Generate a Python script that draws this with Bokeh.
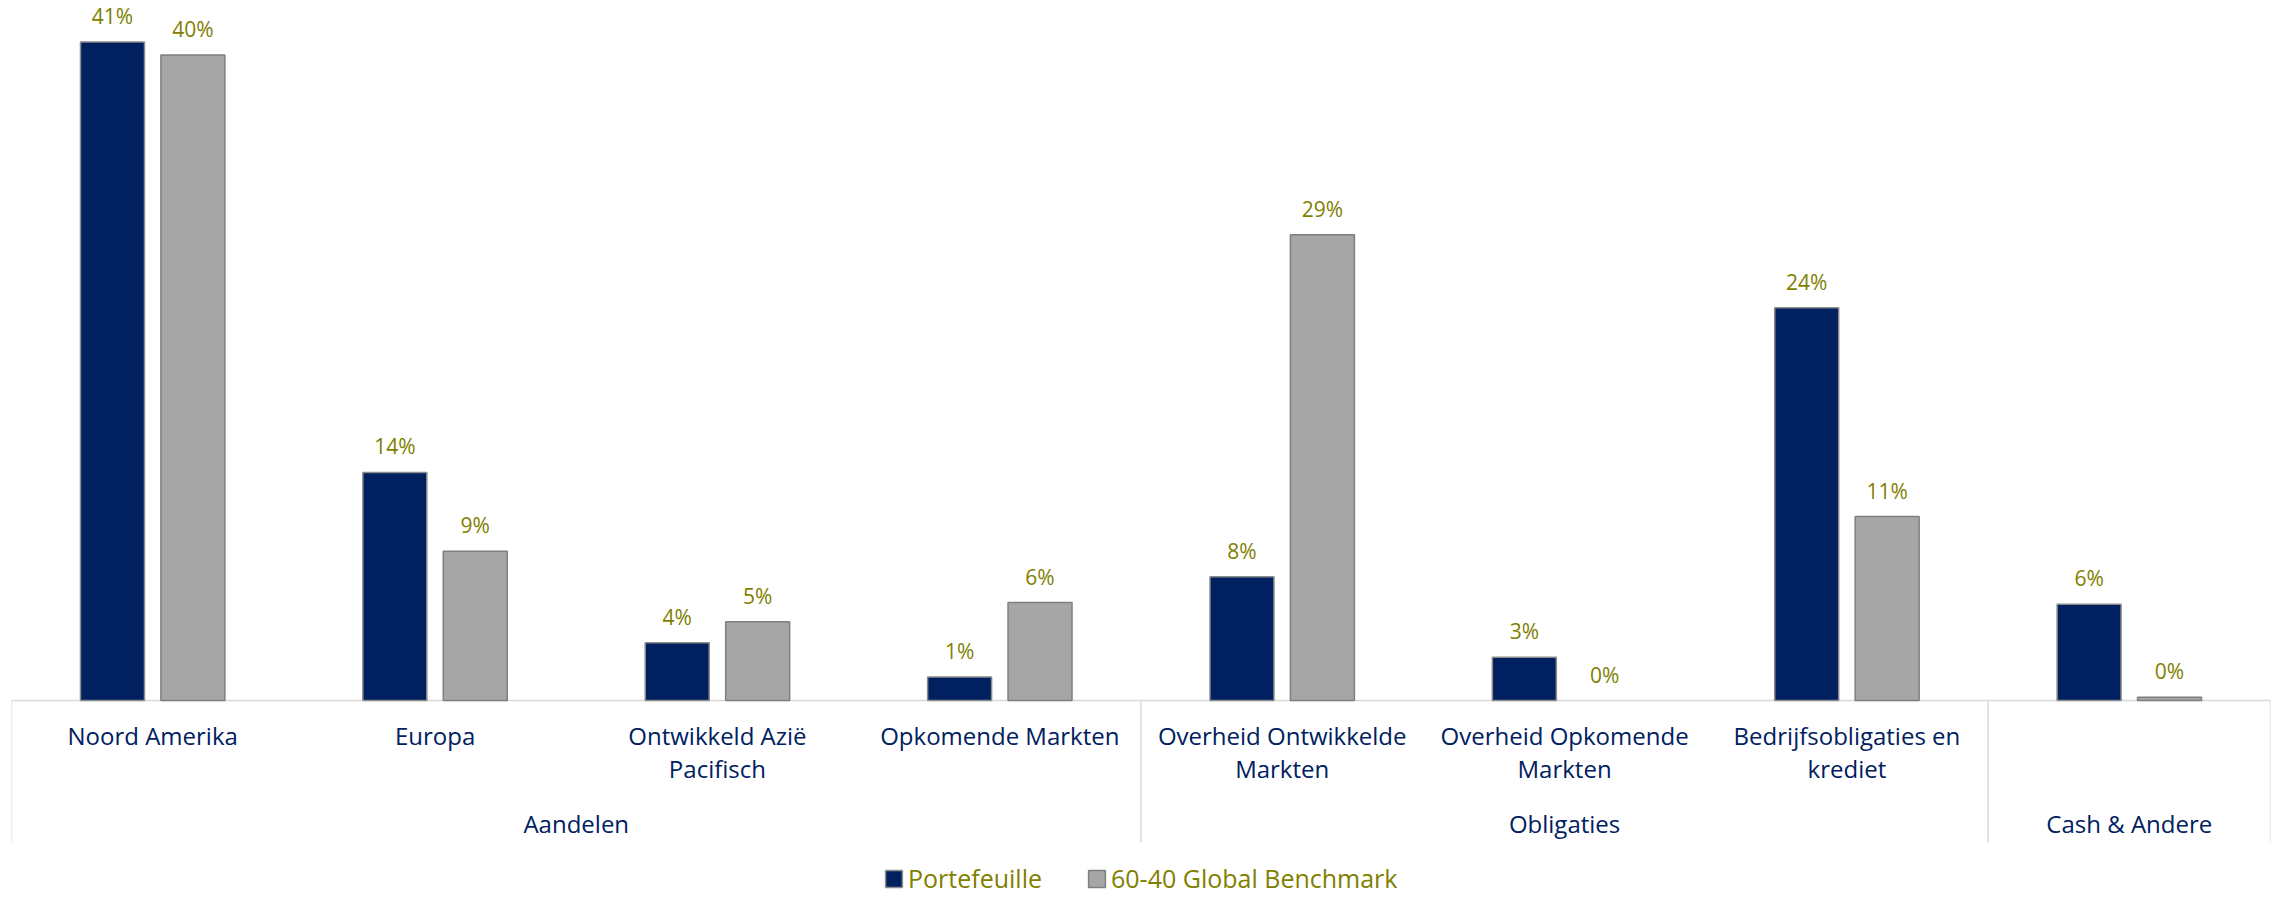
from bokeh.plotting import figure
from bokeh.models import FactorRange, Range1d, ColumnDataSource, Span, Legend, LegendItem
from bokeh.transform import dodge
from bokeh.core.properties import value
from bokeh.embed import file_html
from bokeh.resources import INLINE

# ---------------- data ----------------
categories = ["Noord Amerika", "Europa", "Ontwikkeld Azië Pacifisch", "Opkomende Markten",
              "Overheid Ontwikkelde Markten", "Overheid Opkomende Markten",
              "Bedrijfsobligaties en krediet", "Cash & Andere"]
category_labels = ["Noord Amerika", "Europa", "Ontwikkeld Azië\nPacifisch", "Opkomende Markten",
                   "Overheid Ontwikkelde\nMarkten", "Overheid Opkomende\nMarkten",
                   "Bedrijfsobligaties en\nkrediet", ""]
groups = ["Aandelen", "Aandelen", "Aandelen", "Aandelen",
          "Obligaties", "Obligaties", "Obligaties", "Cash & Andere"]
portfolio = [41.0, 14.2, 3.6, 1.47, 7.7, 2.7, 24.45, 6.0]
benchmark = [40.2, 9.3, 4.9, 6.1, 29.0, 0.0, 11.45, 0.2]
series_names = ["Portefeuille", "60-40 Global Benchmark"]

# ---------------- style ----------------
NAVY = "#002060"
GREY = "#A6A6A6"
OLIVE = "#7F7F00"
AXIS_GREY = "#D9D9D9"
FONT = value("Open Sans")

W, H = 2276, 896
PX = 16.06            # pixels per percentage point
BASE_FROM_TOP = 700   # baseline distance from top of frame, px
BOX_DEPTH = 142       # depth of label box below baseline, px
BAR_W = 0.2266
OFF = 0.1424

y_end = BASE_FROM_TOP / PX
y_start = -(H - BASE_FROM_TOP) / PX

p = figure(width=W, height=H,
           x_range=FactorRange(factors=categories, range_padding=0, factor_padding=0),
           y_range=Range1d(y_start, y_end),
           output_backend="svg", toolbar_location=None,
           x_axis_location=None, y_axis_location=None,
           min_border_left=11, min_border_right=6, min_border_top=0, min_border_bottom=0,
           outline_line_color=None, background_fill_color="white", border_fill_color="white")
for g in p.grid:
    g.visible = False

src = ColumnDataSource(dict(
    cat=categories,
    cat_label=category_labels,
    portfolio=portfolio,
    benchmark=benchmark,
    p_lbl=[f"{v:.0f}%" for v in portfolio],
    b_lbl=[f"{v:.0f}%" for v in benchmark],
    p_line=["#8C8C8C" if v > 0 else None for v in portfolio],
    b_line=["#7F7F7F" if v > 0 else None for v in benchmark],
))

# baseline / box top
p.add_layout(Span(location=0, dimension="width", line_color=AXIS_GREY, line_width=1.5, level="underlay"))

# group separators and box edges
grp_names, grp_first, grp_last = [], [], []
for i, g in enumerate(groups):
    if not grp_names or grp_names[-1] != g:
        grp_names.append(g)
        grp_first.append(i)
        grp_last.append(i)
    else:
        grp_last[-1] = i
edges = grp_first + [len(categories)]
p.segment(x0=edges, y0=[0] * len(edges), x1=edges, y1=[-BOX_DEPTH / PX] * len(edges),
          line_color=AXIS_GREY, line_width=1.5)

r1 = p.vbar(x=dodge("cat", -OFF, range=p.x_range), top="portfolio", width=BAR_W, source=src,
            fill_color=NAVY, line_color="p_line", line_width=1.5)
r2 = p.vbar(x=dodge("cat", OFF, range=p.x_range), top="benchmark", width=BAR_W, source=src,
            fill_color=GREY, line_color="b_line", line_width=1.5)

# data labels
p.text(x=dodge("cat", -OFF, range=p.x_range), y="portfolio", text="p_lbl", source=src,
       text_align="center", text_baseline="alphabetic", y_offset=-26,
       text_font=FONT, text_font_size="21px", text_color=OLIVE)
p.text(x=dodge("cat", OFF, range=p.x_range), y="benchmark", text="b_lbl", source=src,
       text_align="center", text_baseline="alphabetic", y_offset=-26,
       text_font=FONT, text_font_size="21px", text_color=OLIVE)

# category labels
p.text(x="cat", y=0, text="cat_label", source=src,
       text_align="center", text_baseline="top", y_offset=18, text_line_height=1.02,
       text_font=FONT, text_font_size="24px", text_color=NAVY)

# group labels
grp_src = ColumnDataSource(dict(
    x=[(f + l) / 2 + 0.5 for f, l in zip(grp_first, grp_last)],
    name=grp_names,
))
p.text(x="x", y=0, text="name", source=grp_src,
       text_align="center", text_baseline="alphabetic", y_offset=122.5,
       text_font=FONT, text_font_size="24px", text_color=NAVY)

legend = Legend(items=[LegendItem(label=series_names[0], renderers=[r1]),
                       LegendItem(label=series_names[1], renderers=[r2])],
                orientation="horizontal", location=(872, 1),
                glyph_width=21, glyph_height=21, label_standoff=4, spacing=44,
                padding=0, margin=0, border_line_color=None, background_fill_alpha=0,
                label_text_font="Open Sans", label_text_font_size="25px",
                label_text_color=OLIVE, label_height=17)
p.add_layout(legend)

open("out.html", "w").write(file_html(p, INLINE))
